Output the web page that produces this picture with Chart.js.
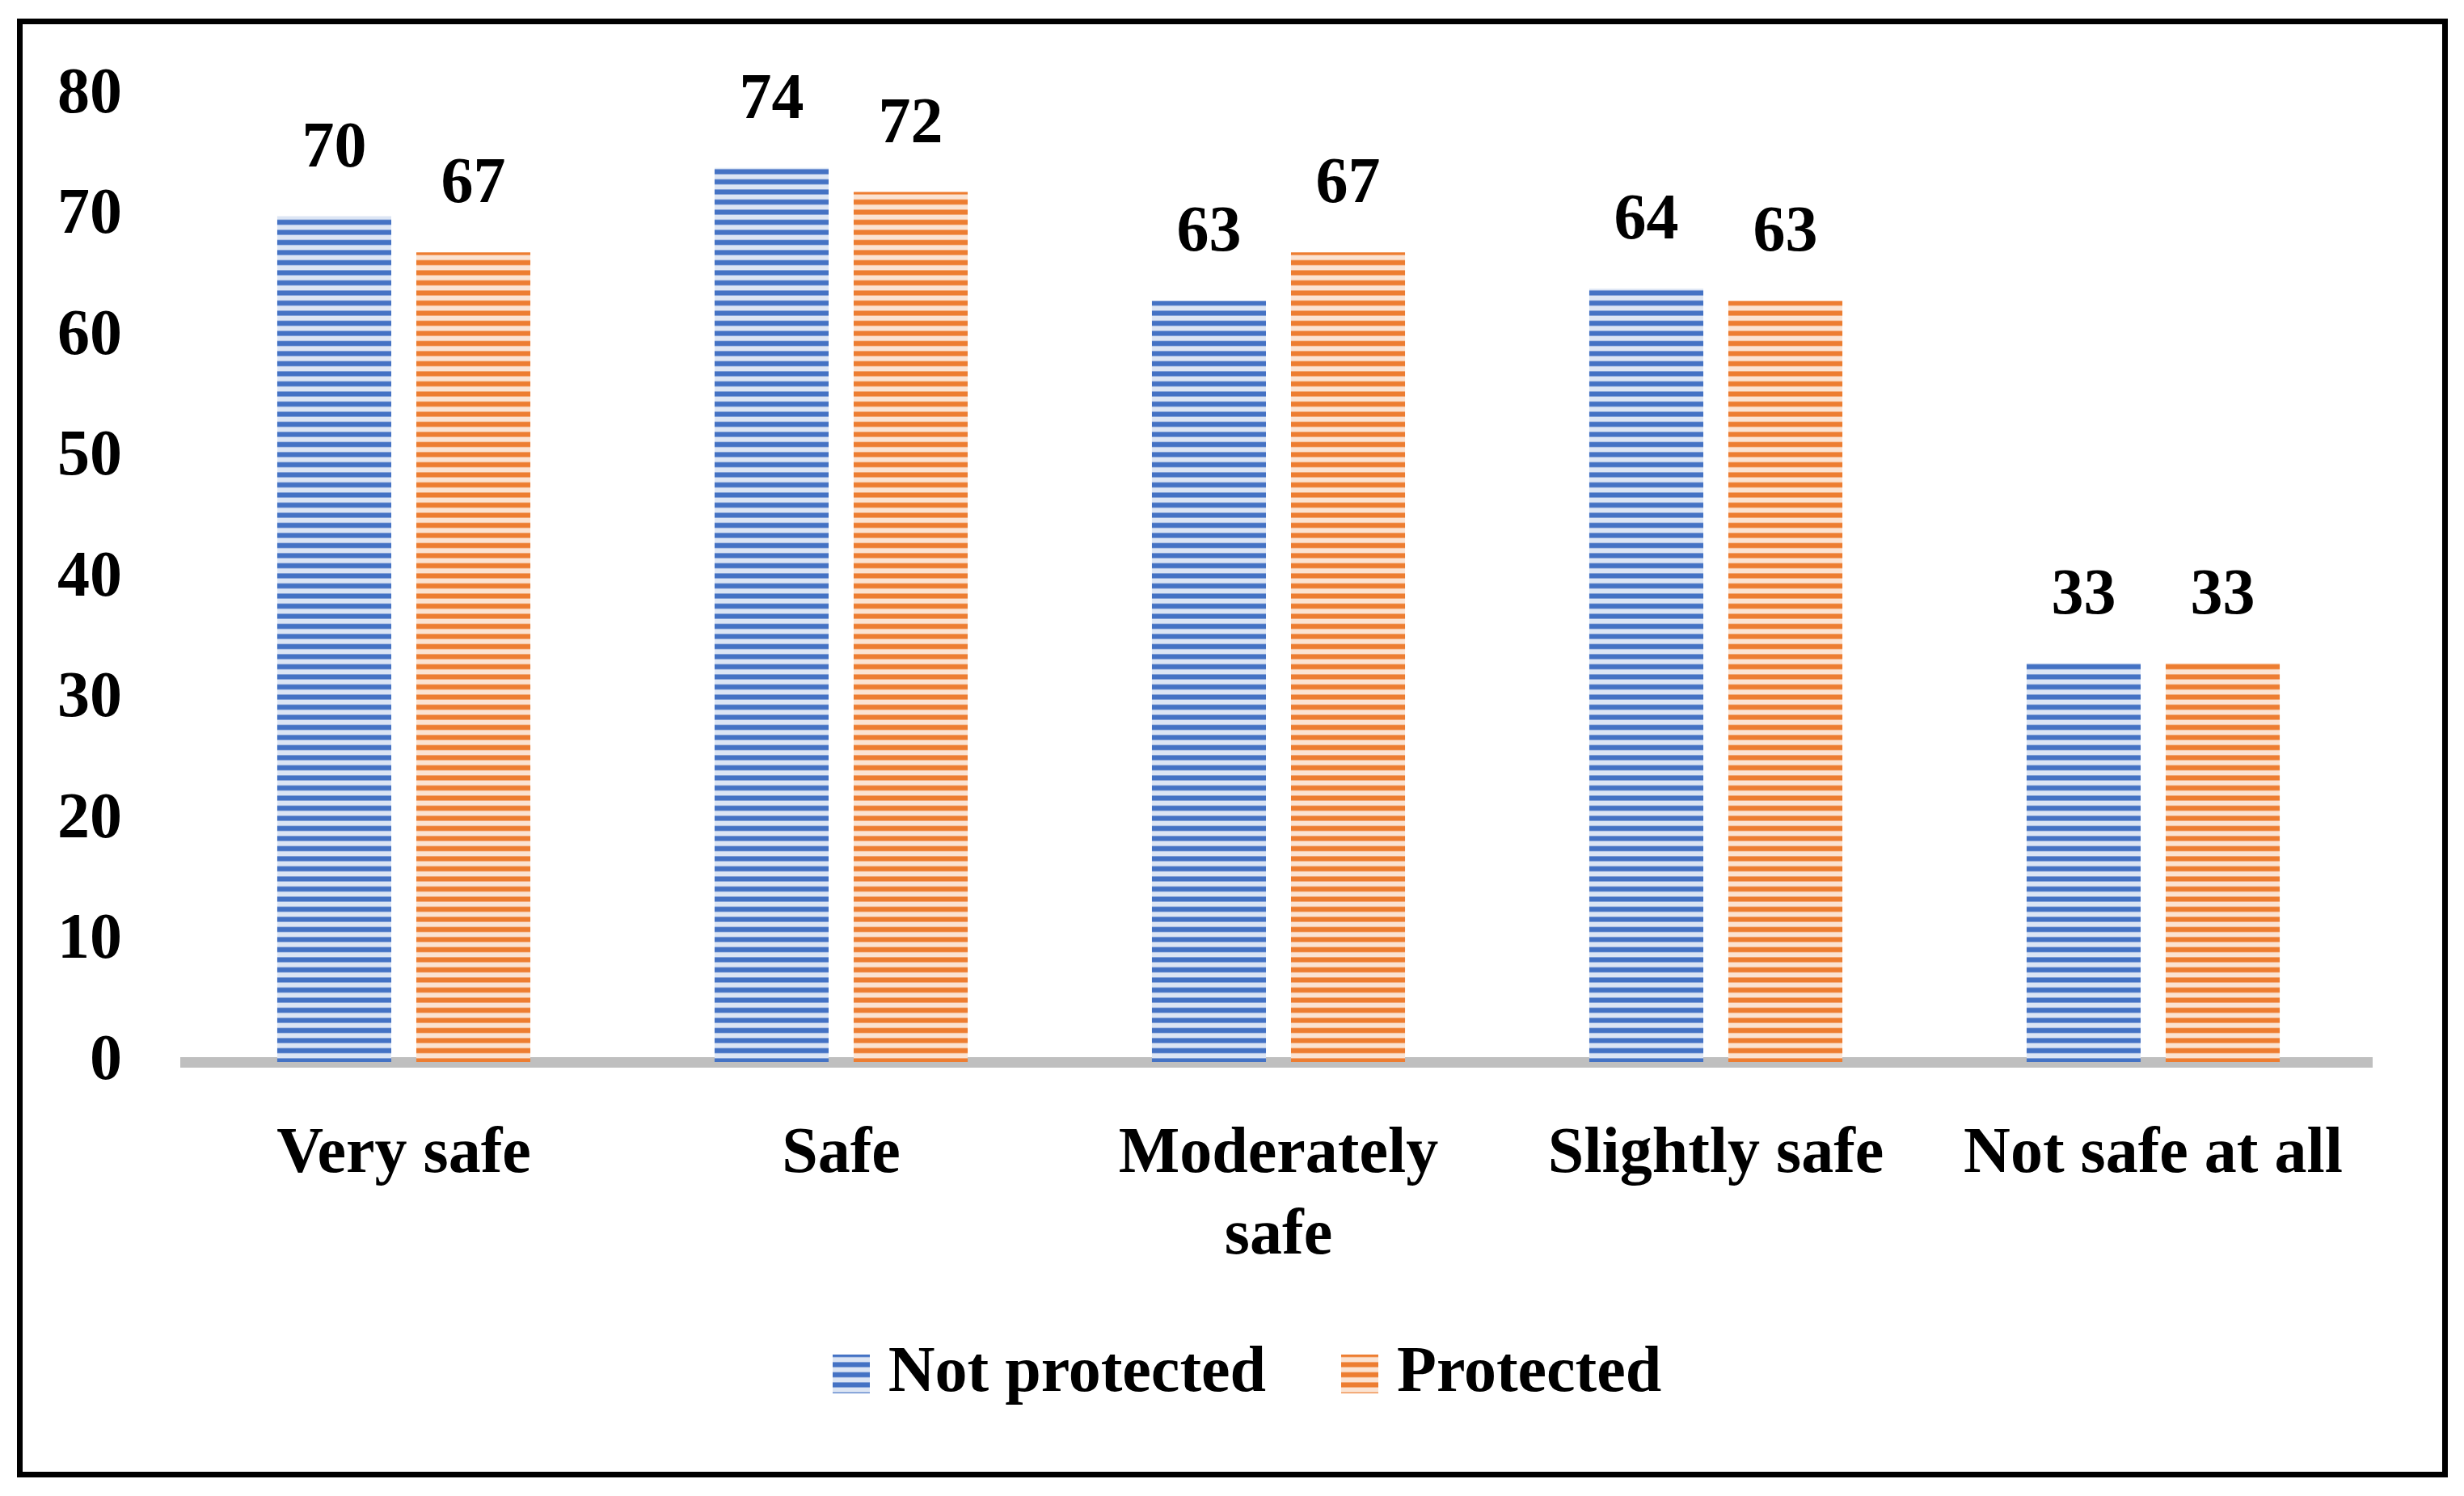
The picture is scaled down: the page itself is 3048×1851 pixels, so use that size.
<!DOCTYPE html>
<html>
<head>
<meta charset="utf-8">
<script src="https://cdn.jsdelivr.net/npm/chart.js@4.4.1/dist/chart.umd.min.js"></script>
<style>
  html, body { margin: 0; padding: 0; background: #fff; }
  #frame {
    position: absolute; left: 21px; top: 23px; width: 3007px; height: 1805px;
    border: 7px solid #000; box-sizing: border-box; pointer-events: none;
  }
  #chart { position: absolute; left: 0; top: 0; }
</style>
</head>
<body>
<canvas id="chart" width="3048" height="1851"></canvas>
<div id="frame"></div>
<script>
// Chart data
const categories = ["Very safe", "Safe", ["Moderately", "safe"], "Slightly safe", "Not safe at all"];
const seriesNames = ["Not protected", "Protected"];
const notProtected = [70, 74, 63, 64, 33];
const protectedVals = [67, 72, 67, 63, 33];
const yTicks = [0, 10, 20, 30, 40, 50, 60, 70, 80];

const FONT = '"Liberation Serif", "Times New Roman", serif';
const FONT_SIZE = 80;

// mix two hex colours
function mix(a, b, k) {
  const pa = [1, 3, 5].map(i => parseInt(a.substr(i, 2), 16));
  const pb = [1, 3, 5].map(i => parseInt(b.substr(i, 2), 16));
  const c = pa.map((v, i) => Math.round(v + (pb[i] - v) * k));
  return `rgb(${c[0]},${c[1]},${c[2]})`;
}

// horizontal stripe tile (two stripes per 25px)
function stripeTile(dark, light) {
  const c = document.createElement("canvas");
  c.width = 4; c.height = 25;
  const g = c.getContext("2d");
  for (let r = 0; r < 25; r++) {
    const t = 0.5 + 0.5 * Math.cos(2 * Math.PI * (r + 0.5) / 12.5);
    const k = Math.min(1, Math.max(0, (t - 0.3) / 0.4));
    g.fillStyle = mix(light, dark, k);
    g.fillRect(0, r, 4, 1);
  }
  return c;
}

const ctx = document.getElementById("chart").getContext("2d");
const blueTile = stripeTile("#4472c4", "#dce5f4");
const orangeTile = stripeTile("#ed7d31", "#fbe3d2");
const bluePattern = ctx.createPattern(blueTile, "repeat");
const orangePattern = ctx.createPattern(orangeTile, "repeat");

// legend swatches
function swatch(tile) {
  const c = document.createElement("canvas");
  c.width = 46; c.height = 48;
  const g = c.getContext("2d");
  g.fillStyle = g.createPattern(tile, "repeat");
  g.fillRect(0, 0, 46, 48);
  return c;
}
const swatches = [swatch(blueTile), swatch(orangeTile)];

// values above bars
const valueLabels = {
  id: "valueLabels",
  afterDatasetsDraw(chart) {
    const c = chart.ctx;
    c.save();
    c.font = `bold ${FONT_SIZE}px ${FONT}`;
    c.fillStyle = "#000";
    c.textAlign = "center";
    c.textBaseline = "alphabetic";
    chart.data.datasets.forEach((ds, i) => {
      chart.getDatasetMeta(i).data.forEach((bar, j) => {
        c.fillText(String(ds.data[j]), bar.x, bar.y - 62);
      });
    });
    c.restore();
  }
};

// nudge the legend box a bit (right / up) after layout
const legendNudge = {
  id: "legendNudge",
  afterLayout(chart) {
    const lg = chart.legend;
    if (!lg) return;
    lg.left += 54; lg.right += 54;
    lg.top -= 14; lg.bottom -= 14;
  }
};

new Chart(ctx, {
  type: "bar",
  data: {
    labels: categories,
    datasets: [
      { label: seriesNames[0], data: notProtected, backgroundColor: bluePattern },
      { label: seriesNames[1], data: protectedVals, backgroundColor: orangePattern }
    ]
  },
  options: {
    responsive: false,
    animation: false,
    devicePixelRatio: 1,
    categoryPercentage: 0.636,
    barPercentage: 0.82,
    layout: { padding: { left: 60, right: 114, top: 116, bottom: 87 } },
    plugins: {
      tooltip: { enabled: false },
      legend: {
        position: "bottom",
        labels: {
          usePointStyle: true,
          pointStyleWidth: 12,
          padding: 110,
          color: "#000",
          font: { family: FONT, size: FONT_SIZE, weight: "bold" },
          generateLabels: (chart) => chart.data.datasets.map((ds, i) => ({
            text: ds.label,
            pointStyle: swatches[i],
            fillStyle: "transparent",
            strokeStyle: "transparent",
            lineWidth: 0,
            fontColor: "#000",
            hidden: false,
            datasetIndex: i
          }))
        }
      }
    },
    scales: {
      x: {
        grid: { display: false },
        border: { display: true, color: "#bfbfbf", width: 13 },
        ticks: {
          color: "#000",
          padding: 57,
          maxRotation: 0,
          autoSkip: false,
          font: { family: FONT, size: FONT_SIZE, weight: "bold", lineHeight: 1.26 }
        },
        afterFit: (scale) => { scale.height = 250; }
      },
      y: {
        min: 0,
        max: 80,
        grid: { display: false },
        border: { display: false },
        afterBuildTicks: (scale) => { scale.ticks = yTicks.map(v => ({ value: v })); },
        ticks: {
          color: "#000",
          padding: 70,
          font: { family: FONT, size: FONT_SIZE, weight: "bold" }
        },
        afterFit: (scale) => { scale.width = 169; }
      }
    }
  },
  plugins: [valueLabels, legendNudge]
});
</script>
</body>
</html>
